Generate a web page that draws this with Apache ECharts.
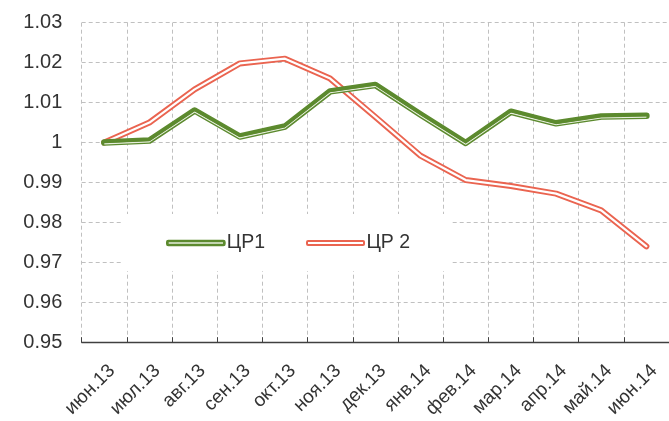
<!DOCTYPE html>
<html>
<head>
<meta charset="utf-8">
<script src="https://cdn.jsdelivr.net/npm/echarts@6/dist/echarts.min.js"></script>
<style>
html,body{margin:0;padding:0;background:#fff;}
#chart{width:669px;height:421px;}
</style>
</head>
<body>
<div id="chart"></div>
<script>
var categories = ['июн.13','июл.13','авг.13','сен.13','окт.13','ноя.13','дек.13','янв.14','фев.14','мар.14','апр.14','май.14','июн.14'];
var cr1 = [1.0000, 1.0005, 1.0080, 1.0015, 1.0040, 1.0128, 1.0144, 1.0070, 0.9999, 1.0077, 1.0048, 1.0065, 1.0067];
var cr2 = [1.0000, 1.0050, 1.0133, 1.0198, 1.0210, 1.0160, 1.0064, 0.9967, 0.9906, 0.9891, 0.9872, 0.9830, 0.9740];
var yTicks = ['0.95','0.96','0.97','0.98','0.99','1','1.01','1.02','1.03'];

var GREEN = '#5c8a2e';
var GREEN_LIGHT = '#e6eedc';
var RED = '#ea6450';
var FONT = 'Liberation Sans, Arial, sans-serif';

var chart = echarts.init(document.getElementById('chart'), null, {renderer: 'canvas'});
chart.setOption({
  backgroundColor: '#fff',
  animation: false,
  textStyle: {fontFamily: FONT},
  grid: {left: 81.7, top: 22.7, width: 600.6, height: 321.6, containLabel: false},
  graphic: [{
    type: 'rect', z: 1, silent: true,
    shape: {x: 123, y: 214, width: 329, height: 57},
    style: {fill: '#fff'}
  }],
  legend: {
    z: 5,
    left: 166, top: 233,
    padding: 0,
    itemWidth: 57, itemHeight: 4,
    itemGap: 41,
    textStyle: {fontSize: 19.5, color: '#333', fontFamily: FONT, padding: [2,0,0,-2.6]},
    data: [
      {name: 'ЦР1', icon: 'roundRect', itemStyle: {color: GREEN_LIGHT, borderColor: GREEN, borderWidth: 2.7}},
      {name: 'ЦР 2', icon: 'roundRect', itemStyle: {color: '#fff', borderColor: RED, borderWidth: 2}}
    ]
  },
  xAxis: {
    type: 'category',
    data: categories,
    boundaryGap: true,
    axisLine: {show: true, lineStyle: {color: '#404040', width: 1.3}},
    axisTick: {show: true, inside: true, length: 5, lineStyle: {color: '#404040'}},
    axisLabel: {rotate: 45, fontSize: 19, color: '#333', margin: 20, fontFamily: FONT, interval: 0,
      align: 'right', verticalAlign: 'top', padding: [0, -1.5, 0, 0]},
    splitLine: {show: true, lineStyle: {color: '#c0c0c0', type: [4, 3], width: 1}}
  },
  yAxis: {
    type: 'value',
    min: 0.95, max: 1.03, interval: 0.01,
    axisLine: {show: false},
    axisTick: {show: false},
    axisLabel: {
      fontSize: 20, color: '#333', margin: 19.4, fontFamily: FONT,
      formatter: function (v) {
        var i = Math.round((v - 0.95) / 0.01);
        return yTicks[i] !== undefined ? yTicks[i] : String(v);
      }
    },
    splitLine: {show: true, lineStyle: {color: '#c0c0c0', type: [4, 3], width: 1}}
  },
  series: [
    {
      name: 'ЦР 2', type: 'line', data: cr2, z: 3,
      symbol: 'none', smooth: false,
      lineStyle: {color: RED, width: 6, cap: 'round', join: 'round'},
      itemStyle: {color: RED}
    },
    {
      name: '_cr2_inner', type: 'line', data: cr2, z: 3, silent: true,
      symbol: 'none',
      lineStyle: {color: '#fff', width: 2.2, cap: 'round', join: 'round'}
    },
    {
      name: 'ЦР1', type: 'line', data: cr1, z: 4,
      symbol: 'none',
      lineStyle: {color: GREEN, width: 6.5, cap: 'round', join: 'round'},
      itemStyle: {color: GREEN}
    },
    {
      name: '_cr1_inner', type: 'line', data: cr1, z: 4, silent: true,
      symbol: 'none',
      lineStyle: {color: GREEN, width: 1.1, cap: 'butt', join: 'round',
        shadowColor: GREEN_LIGHT, shadowBlur: 0, shadowOffsetX: 0, shadowOffsetY: 1.4}
    }
  ]
});
</script>
</body>
</html>
